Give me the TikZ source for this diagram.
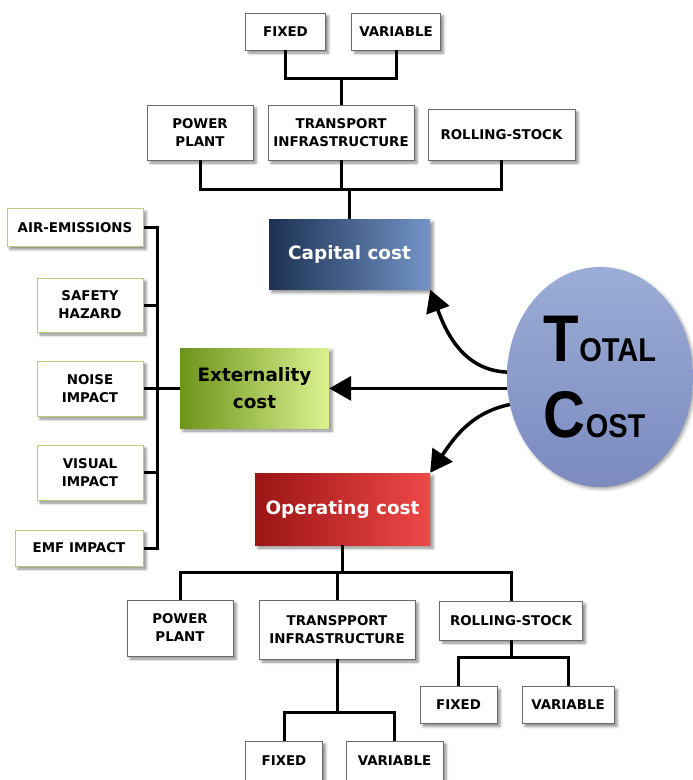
\documentclass[tikz,border=0pt]{standalone}
\usepackage{fontspec}
\setmainfont{DejaVu Sans}
\newfontfamily\totfont{Liberation Sans}
\usetikzlibrary{arrows.meta,shadows.blur,calc,shapes.geometric}
\definecolor{boxgray}{HTML}{6A6A6A}
\definecolor{leafgreen}{HTML}{B4CF7C}
\definecolor{capL}{HTML}{1C3152}
\definecolor{capR}{HTML}{7294C6}
\definecolor{extL}{HTML}{6C941A}
\definecolor{extR}{HTML}{DCF290}
\definecolor{opL}{HTML}{9C1414}
\definecolor{opR}{HTML}{EE4848}
\definecolor{totT}{HTML}{9BADD6}
\definecolor{totB}{HTML}{7C8AC0}
\newcommand\dlabfont{\fontsize{13.4}{18}\selectfont\bfseries}
\newcommand\dbigfont{\fontsize{18.4}{27}\selectfont\bfseries}
\newcommand\dtotfont{\totfont\bfseries\fontsize{66}{76}\selectfont}
\begin{document}
\begin{tikzpicture}[x=1pt,y=-1pt,
  box/.style={draw=boxgray, line width=0.8pt, fill=white, inner sep=0pt, align=center, font=\dlabfont,
    blur shadow={shadow xshift=3pt,shadow yshift=-3pt,shadow blur radius=2.5pt,shadow opacity=45}},
  leaf/.style={box, draw=leafgreen, line width=1pt},
  bigbox/.style={inner sep=0pt, align=center, font=\dbigfont,
    blur shadow={shadow xshift=3pt,shadow yshift=-3pt,shadow blur radius=3pt,shadow opacity=45}},
  conn/.style={draw=black, line width=3pt},
  arr/.style={draw=black, line width=3.5pt, -{Triangle[length=22pt,width=24pt]}}
]
\useasboundingbox (0,0) rectangle (693,780);

% top capital tree
\node[box, minimum width=80, minimum height=37] (fixT) at (285.5,31.5) {FIXED};
\node[box, minimum width=89, minimum height=37] (varT) at (396,31.5) {VARIABLE};
\node[box, minimum width=106, minimum height=55] (ppT) at (200,132.5) {POWER\\PLANT};
\node[box, minimum width=146, minimum height=55] (trT) at (341,132.5) {TRANSPORT\\INFRASTRUCTURE};
\node[box, minimum width=147, minimum height=51] (rsT) at (501.5,134.5) {ROLLING-STOCK};

\node[bigbox, left color=capL, right color=capR, text=white, minimum width=161, minimum height=70] (cap) at (349.5,254.5) {Capital cost};
\node[bigbox, left color=extL, right color=extR, text=black, minimum width=149, minimum height=80] (ext) at (254.5,388) {Externality\\cost};
\node[bigbox, left color=opL, right color=opR, text=white, minimum width=175, minimum height=72] (op) at (342.5,509) {Operating cost};

% left leaves
\node[leaf, minimum width=136, minimum height=38] (air) at (75,227.5) {AIR-EMISSIONS};
\node[leaf, minimum width=106, minimum height=54] (saf) at (90,305) {SAFETY\\HAZARD};
\node[leaf, minimum width=106, minimum height=55] (noi) at (90,388.5) {NOISE\\IMPACT};
\node[leaf, minimum width=106, minimum height=55] (vis) at (90,472.5) {VISUAL\\IMPACT};
\node[leaf, minimum width=128, minimum height=36] (emf) at (79,548) {EMF IMPACT};

% bottom operating tree
\node[box, minimum width=106, minimum height=56] (ppB) at (180,628) {POWER\\PLANT};
\node[box, minimum width=156, minimum height=59] (trB) at (337,629.5) {TRANSPPORT\\INFRASTRUCTURE};
\node[box, minimum width=143, minimum height=39] (rsB) at (511,620.5) {ROLLING-STOCK};
\node[box, minimum width=77, minimum height=37] (fixRB) at (458.5,705) {FIXED};
\node[box, minimum width=92, minimum height=37] (varRB) at (568,705) {VARIABLE};
\node[box, minimum width=77, minimum height=40] (fixTB) at (284,761) {FIXED};
\node[box, minimum width=97, minimum height=40] (varTB) at (394.5,761) {VARIABLE};

% total cost ellipse
\node[ellipse, minimum width=186, minimum height=220, inner sep=0pt,
  top color=totT, bottom color=totB, align=left, font=\dtotfont,
  blur shadow={shadow xshift=2pt,shadow yshift=-2pt,shadow blur radius=3pt,shadow opacity=35}] (tot) at (600,377)
  {\scalebox{0.88}[1]{T\fontsize{33}{76}\selectfont OTAL}\\
   \scalebox{0.88}[1]{C\fontsize{33}{76}\selectfont OST}};

% connectors: top
\draw[conn] (fixT.south) -- ++(0,28) coordinate (j1) -| (varT.south);
\draw[conn] (trT.north) -- (trT.north |- j1);
\coordinate (b1) at (349.5,189);
\draw[conn] (ppT.south) |- (b1) -| (rsT.south);
\draw[conn] (trT.south) -- (trT.south |- b1);
\draw[conn] (cap.north) -- (b1);

% connectors: left
\coordinate (lb) at (157,0);
\draw[conn] (air.east) -- (air.east -| lb) -- (emf.east -| lb) -- (emf.east);
\draw[conn] (saf.east) -- (saf.east -| lb);
\draw[conn] (vis.east) -- (vis.east -| lb);
\draw[conn] (noi.east) -- (noi.east -| ext.west);

% connectors: bottom
\draw[conn] (op.south) -- ++(0,27) coordinate (j2);
\draw[conn] (ppB.north) |- (j2) -| (rsB.north);
\draw[conn] (trB.north) -- (trB.north |- j2);
\draw[conn] (rsB.south) -- ++(0,17) coordinate (j3);
\draw[conn] (fixRB.north) |- (j3) -| (varRB.north);
\draw[conn] (trB.south) -- ++(0,53) coordinate (j4);
\draw[conn] (fixTB.north) |- (j4) -| (varTB.north);

% arrows from total cost
\draw[arr] (tot.177) .. controls +(-45,-2) and +(15,40) .. (cap.south east);
\draw[arr] (tot.187) -- (ext.east |- tot.187);
\draw[arr] (tot.197) .. controls +(-40,8) and +(22,-32) .. (op.north east);
\end{tikzpicture}
\end{document}
